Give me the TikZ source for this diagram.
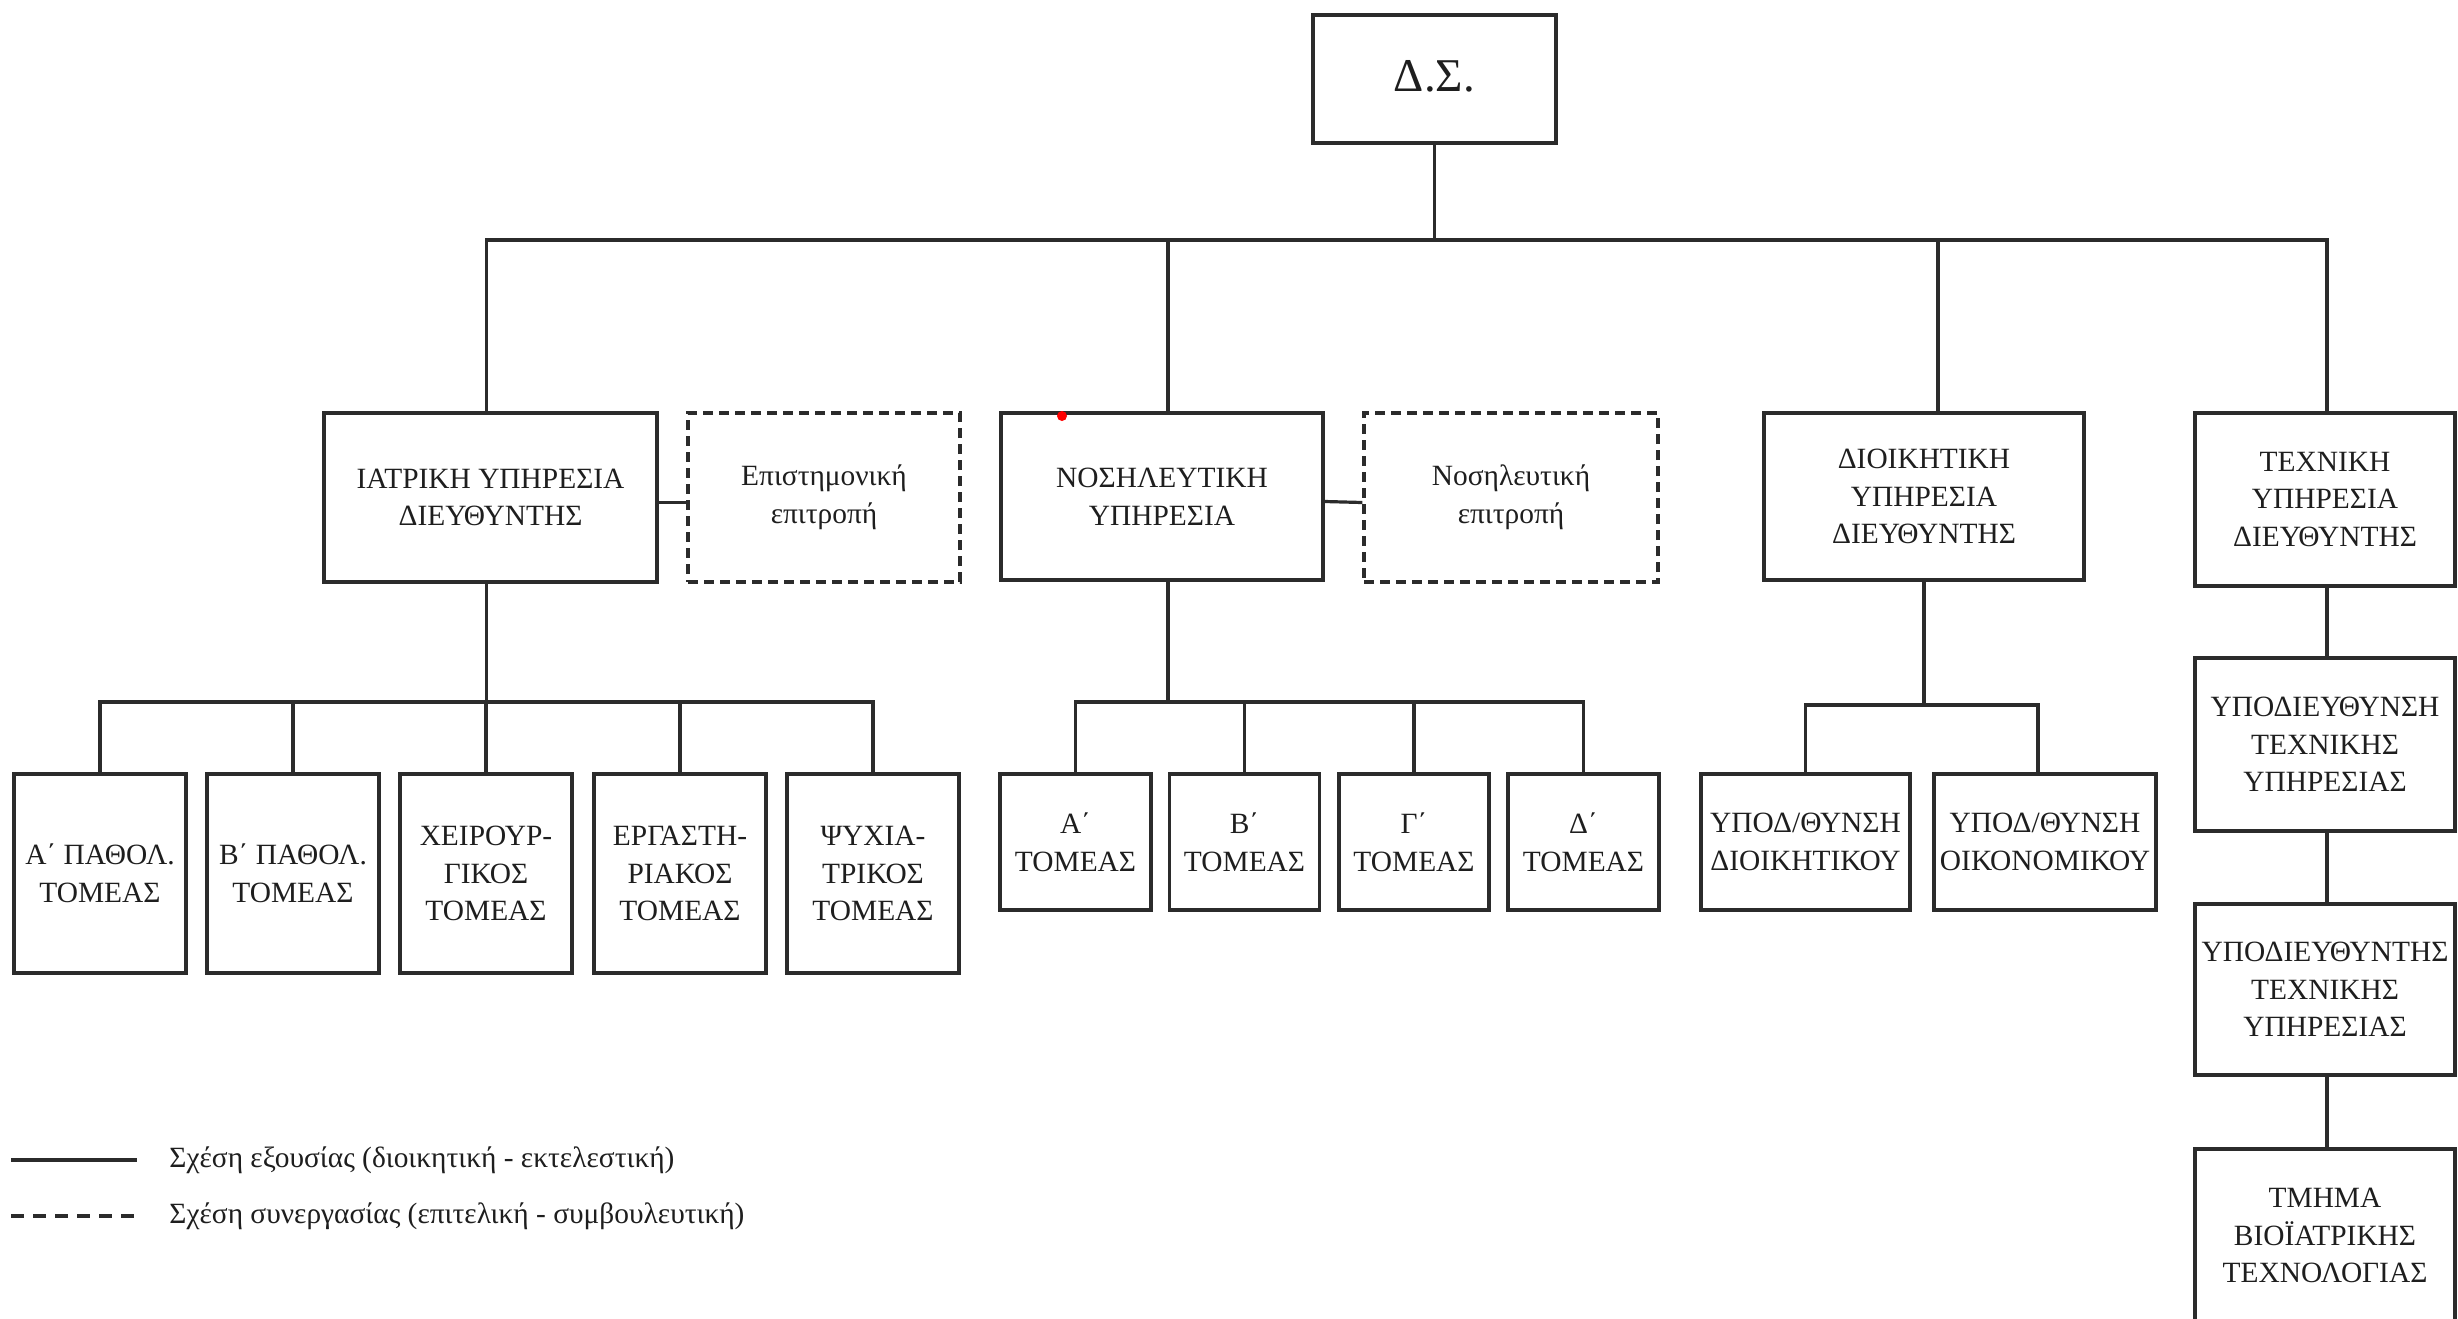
\documentclass[tikz,border=0pt]{standalone}
\usepackage{fontspec}
\setmainfont{Liberation Serif}
\definecolor{lncol}{HTML}{2B2B2B}
\definecolor{txcol}{HTML}{1E1E1E}
\begin{document}
\begin{tikzpicture}[x=0.5pt,y=-0.5pt,
  orgbox/.style={draw=lncol, line width=1.7pt, rectangle, align=center, inner sep=1pt,
    text=txcol, font=\fontsize{14.7}{18.8}\selectfont},
  dashbox/.style={orgbox, dash pattern=on 5pt off 3pt},
  conn/.style={draw=lncol, line width=1.6pt},
  legtext/.style={anchor=west, inner sep=0pt, text=txcol, font=\fontsize{14.7}{18}\selectfont}]
\useasboundingbox (0,0) rectangle (2458,1318);

% top
\node[orgbox, minimum width=121.5pt, minimum height=64pt, font=\fontsize{23.5}{26}\selectfont] (ds) at (1434.5,79) {\raisebox{3.5pt}{Δ.Σ.}};

% level 2
\node[orgbox, minimum width=166.5pt, minimum height=84.5pt] (iatr) at (490.5,497.5) {ΙΑΤΡΙΚΗ ΥΠΗΡΕΣΙΑ\\ΔΙΕΥΘΥΝΤΗΣ};
\node[dashbox, minimum width=136pt, minimum height=84.5pt] (epist) at (824,497.5) {Επιστημονική\\επιτροπή};
\node[orgbox, minimum width=161pt, minimum height=83.5pt] (nos) at (1162,496.5) {ΝΟΣΗΛΕΥΤΙΚΗ\\ΥΠΗΡΕΣΙΑ};
\node[dashbox, minimum width=147pt, minimum height=84.5pt] (nosep) at (1511,497.5) {Νοσηλευτική\\επιτροπή};
\node[orgbox, minimum width=160pt, minimum height=83.5pt] (dioik) at (1924,496.5) {ΔΙΟΙΚΗΤΙΚΗ\\ΥΠΗΡΕΣΙΑ\\ΔΙΕΥΘΥΝΤΗΣ};
\node[orgbox, minimum width=130pt, minimum height=86.5pt] (tex) at (2325,499.5) {ΤΕΧΝΙΚΗ\\ΥΠΗΡΕΣΙΑ\\ΔΙΕΥΘΥΝΤΗΣ};

% level 3 - iatriki
\node[orgbox, minimum width=86pt, minimum height=99.5pt] (a1) at (100,873.5) {Α΄ ΠΑΘΟΛ.\\ΤΟΜΕΑΣ};
\node[orgbox, minimum width=86pt, minimum height=99.5pt] (a2) at (293,873.5) {Β΄ ΠΑΘΟΛ.\\ΤΟΜΕΑΣ};
\node[orgbox, minimum width=86pt, minimum height=99.5pt] (a3) at (486,873.5) {ΧΕΙΡΟΥΡ-\\ΓΙΚΟΣ\\ΤΟΜΕΑΣ};
\node[orgbox, minimum width=86pt, minimum height=99.5pt] (a4) at (680,873.5) {ΕΡΓΑΣΤΗ-\\ΡΙΑΚΟΣ\\ΤΟΜΕΑΣ};
\node[orgbox, minimum width=86pt, minimum height=99.5pt] (a5) at (873,873.5) {ΨΥΧΙΑ-\\ΤΡΙΚΟΣ\\ΤΟΜΕΑΣ};

% level 3 - nosileftiki
\node[orgbox, minimum width=75.5pt, minimum height=68pt] (b1) at (1075.5,842) {Α΄\\ΤΟΜΕΑΣ};
\node[orgbox, minimum width=75pt, minimum height=68pt] (b2) at (1244.5,842) {Β΄\\ΤΟΜΕΑΣ};
\node[orgbox, minimum width=75pt, minimum height=68pt] (b3) at (1414,842) {Γ΄\\ΤΟΜΕΑΣ};
\node[orgbox, minimum width=75.5pt, minimum height=68pt] (b4) at (1583.5,842) {Δ΄\\ΤΟΜΕΑΣ};

% level 3 - dioikitiki
\node[orgbox, minimum width=104.5pt, minimum height=68pt] (c1) at (1805.5,842) {ΥΠΟΔ/ΘΥΝΣΗ\\ΔΙΟΙΚΗΤΙΚΟΥ};
\node[orgbox, minimum width=111pt, minimum height=68pt] (c2) at (2045,842) {ΥΠΟΔ/ΘΥΝΣΗ\\ΟΙΚΟΝΟΜΙΚΟΥ};

% texniki column
\node[orgbox, minimum width=130pt, minimum height=86.5pt] (t1) at (2325,744.5) {ΥΠΟΔΙΕΥΘΥΝΣΗ\\ΤΕΧΝΙΚΗΣ\\ΥΠΗΡΕΣΙΑΣ};
\node[orgbox, minimum width=130pt, minimum height=85.5pt] (t2) at (2325,989.5) {ΥΠΟΔΙΕΥΘΥΝΤΗΣ\\ΤΕΧΝΙΚΗΣ\\ΥΠΗΡΕΣΙΑΣ};
\node[orgbox, minimum width=130pt, minimum height=86.5pt] (t3) at (2325,1235.5) {ΤΜΗΜΑ\\ΒΙΟΪΑΤΡΙΚΗΣ\\ΤΕΧΝΟΛΟΓΙΑΣ};

% bus coordinates
\coordinate (topbus) at (1434.5,240);
\coordinate (ibus) at (486.5,702);
\coordinate (nbus) at (1168,702);
\coordinate (dbus) at (1924,705);

% connectors
\draw[conn] (ds.south) -- (topbus);
\draw[conn] ([xshift=-2pt]iatr.north) |- (topbus);
\draw[conn] ([xshift=3pt]nos.north) |- (topbus);
\draw[conn] ([xshift=7pt]dioik.north) |- (topbus);
\draw[conn] ([xshift=1pt]tex.north) |- (topbus);

\draw[conn] ([yshift=-2.5pt]iatr.east) -- ([yshift=-2.5pt]epist.west);
\draw[conn] ([yshift=-2.5pt]nos.east) -- ([yshift=-2.5pt]nosep.west);

\draw[conn] ([xshift=-2pt]iatr.south) -- (ibus);
\foreach \n in {a1,a2,a3,a4,a5} \draw[conn] (\n.north) |- (ibus);

\draw[conn] ([xshift=3pt]nos.south) -- (nbus);
\foreach \n in {b1,b2,b3,b4} \draw[conn] (\n.north) |- (nbus);

\draw[conn] (dioik.south) -- (dbus);
\draw[conn] (c1.north) |- (dbus);
\draw[conn] ([xshift=-3.5pt]c2.north) |- (dbus);

\draw[conn] ([xshift=1pt]tex.south) -- ([xshift=1pt]t1.north);
\draw[conn] ([xshift=1pt]t1.south) -- ([xshift=1pt]t2.north);
\draw[conn] ([xshift=1pt]t2.south) -- ([xshift=1pt]t3.north);

% red mark
\node[circle, fill=red, inner sep=0pt, minimum size=5pt] (mark) at (1062,416) {};

% legend
\coordinate (la1) at (11,1160);
\coordinate (la2) at (137,1160);
\coordinate (lb1) at (11,1216);
\coordinate (lb2) at (137,1216);
\draw[conn] (la1) -- (la2);
\draw[conn, dash pattern=on 6.5pt off 4.5pt] (lb1) -- (lb2);
\node[legtext] (lt1) at (169,1160) {Σχέση εξουσίας (διοικητική - εκτελεστική)};
\node[legtext] (lt2) at (169,1216) {Σχέση συνεργασίας (επιτελική - συμβουλευτική)};
\end{tikzpicture}
\end{document}
